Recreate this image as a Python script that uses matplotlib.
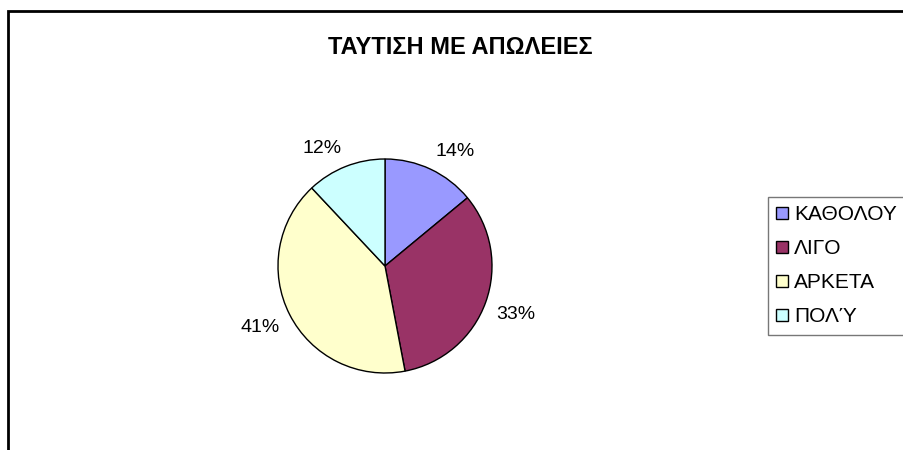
#!/usr/bin/env python3
# -*- coding: utf-8 -*-
import matplotlib
matplotlib.use("Agg")
import numpy as np
import matplotlib.pyplot as plt
from matplotlib.patches import Rectangle

plt.rcParams["font.family"] = ["Liberation Sans", "DejaVu Sans"]

title = "ΤΑΥΤΙΣΗ ΜΕ ΑΠΩΛΕΙΕΣ"
categories = ["ΚΑΘΟΛΟΥ", "ΛΙΓΟ", "ΑΡΚΕΤΑ", "ΠΟΛΎ"]
shares = [14, 33, 41, 12]
colors = ["#9999FF", "#993366", "#FFFFCC", "#CCFFFF"]

W, H = 904, 450


def main():
    fig = plt.figure(figsize=(W / 100, H / 100), dpi=100)

    # outer chart frame, runs off the right and bottom edges
    fig.patches.append(Rectangle((8 / W, -0.1), 1.2, 1 - 11 / H + 0.1,
                                 transform=fig.transFigure, fill=False,
                                 edgecolor="black", linewidth=2))

    cx, cy, r = 385, 266, 107
    ax = fig.add_axes([(cx - r) / W, (H - cy - r) / H, 2 * r / W, 2 * r / H])
    wedges, _, autotexts = ax.pie(
        shares, colors=colors, startangle=90, counterclock=False,
        autopct="%1.0f%%",
        wedgeprops=dict(edgecolor="black", linewidth=1),
        textprops=dict(fontsize=14),
    )
    ax.set_xlim(-1, 1)
    ax.set_ylim(-1, 1)

    # put each percentage just outside the rim, box corner facing the wedge
    for w, t in zip(wedges, autotexts):
        ang = np.deg2rad((w.theta1 + w.theta2) / 2)
        x, y = 1.1 * np.cos(ang), 1.1 * np.sin(ang)
        t.set_position((x, y))
        t.set_ha("left" if x > 0 else "right")
        t.set_va("bottom" if y > 0 else "top")

    fig.text(460 / W, 1 - 47 / H, title, ha="center", va="center",
             fontsize=17, fontweight="bold")

    # legend box is wider than the figure, so it gets cut at the right edge
    leg = fig.legend(wedges, categories, loc="upper left", mode="expand",
                     bbox_to_anchor=(768 / W, 1 - 197 / H, 0.2, 0),
                     fontsize=15, frameon=True, fancybox=False,
                     handlelength=0.55, handleheight=0.55, handletextpad=0.3,
                     labelspacing=0.72, borderpad=0.4, borderaxespad=0)
    leg.get_frame().set_edgecolor("#555555")
    leg.get_frame().set_linewidth(1)

    fig.savefig("out.png", dpi=100)


if __name__ == "__main__":
    main()
